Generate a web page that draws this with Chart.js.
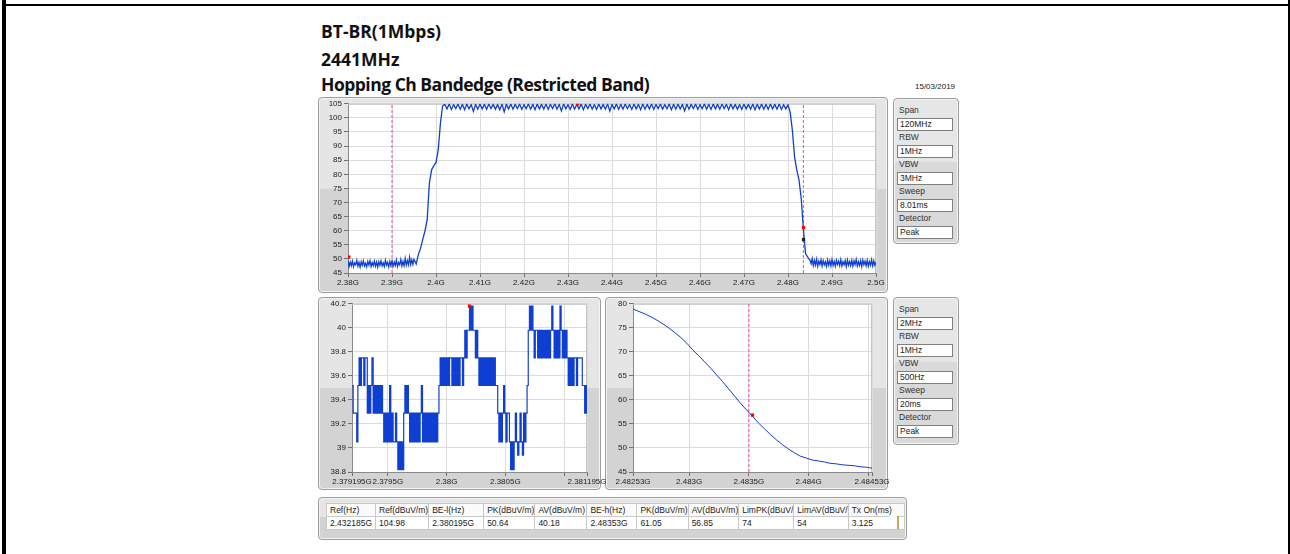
<!DOCTYPE html>
<html>
<head>
<meta charset="utf-8">
<title>BT-BR(1Mbps) 2441MHz - Hopping Ch Bandedge</title>
<script src="https://cdn.jsdelivr.net/npm/chart.js@4.4.1/dist/chart.umd.min.js"></script>
<style>
  html, body { margin: 0; padding: 0; background: #fff; }
  body { position: relative; width: 1290px; height: 554px; overflow: hidden; font-family: 'Liberation Sans', Arial, sans-serif; }
  .edge { position: absolute; background: #000; }
  .ttl { position: absolute; left: 321px; font: 700 17.5px/20px 'Open Sans', sans-serif; color: #111; white-space: nowrap; }
  .stamp { position: absolute; left: 915px; top: 82px; font: 8px/10px 'Liberation Sans', sans-serif; color: #222; }
  .panel { position: absolute; box-sizing: border-box; border: 1px solid #9d9d9d; border-radius: 4px;
    background: linear-gradient(#e5e5e5 0, #e5e5e5 47%, #d3d3d3 47%, #d3d3d3 100%);
    box-shadow: inset 0 0 0 1px #f3f3f3; }
  .info { background: linear-gradient(#e6e6e6 0, #e6e6e6 44%, #d9d9d9 44%, #d9d9d9 100%); }
  canvas { position: absolute; }
  .lbl { position: absolute; left: 5px; font: 8.5px/10px 'Liberation Sans', sans-serif; color: #333; }
  .box { position: absolute; left: 3px; width: 56px; height: 13px; box-sizing: border-box; border: 1px solid #7f7f7f; background: #fff;
    font: 8.5px/11px 'Liberation Sans', sans-serif; color: #222; padding-left: 2px; }
  table { position: absolute; left: 7px; top: 5px; border-collapse: collapse; table-layout: fixed; }
  td { height: 13px; padding: 0 0 0 3px; border: 1px solid #c9c9c9; background: #fff; font: 8.5px/11px 'Liberation Sans', sans-serif;
    color: #222; white-space: nowrap; overflow: hidden; box-sizing: border-box; }
  tr.hdr td { background: #fbfbfb; }
  .tan { position: absolute; left: 889px; top: 516px; width: 8px; height: 13px; background: #fff; border-right: 2px solid #c8a65a; }
</style>
</head>
<body>
<div class="edge" style="left:2px;top:0;width:4px;height:554px"></div>
<div class="edge" style="left:1288px;top:0;width:2px;height:554px"></div>
<div class="edge" style="left:6px;top:4px;width:1282px;height:2px"></div>

<div class="ttl" style="top:21px">BT-BR(1Mbps)</div>
<div class="ttl" style="top:49px">2441MHz</div>
<div class="ttl" style="top:74px;letter-spacing:-0.5px">Hopping Ch Bandedge (Restricted Band)</div>
<div class="stamp">15/03/2019</div>

<div class="panel" style="left:318px;top:97px;width:570px;height:196px"></div>
<div class="panel" style="left:318px;top:297px;width:283px;height:193px"></div>
<div class="panel" style="left:605px;top:297px;width:283px;height:193px"></div>
<div class="panel info" id="info-top" style="left:893px;top:98px;width:66px;height:146px"></div>
<div class="panel info" id="info-zoom" style="left:893px;top:297px;width:66px;height:148px"></div>
<div class="panel" id="tbl-panel" style="left:318px;top:497px;width:589px;height:43px"></div>
<div class="tan"></div>

<canvas id="ch-full" width="572" height="197" style="left:318px;top:97px"></canvas>
<canvas id="ch-low" width="302" height="195" style="left:318px;top:297px"></canvas>
<canvas id="ch-high" width="286" height="195" style="left:606px;top:297px"></canvas>

<script>
// ---- full-span sweep 2380..2500 MHz (dBuV/m), read in pieces
const fullLowNoise = [   // 2380 .. 2394.75, every 0.25 MHz
  49.4, 47.3, 48.9, 47.6, 49.2, 47.2, 48.6, 47.9, 49.5, 47.4,
  48.8, 47.1, 49.0, 47.7, 49.3, 47.5, 48.5, 47.2, 49.1, 47.8,
  49.4, 47.3, 48.7, 47.6, 49.2, 47.4, 48.9, 47.1, 49.0, 47.7,
  49.3, 47.5, 48.6, 47.3, 49.5, 47.8, 48.8, 47.2, 49.1, 47.6,
  49.2, 47.4, 48.9, 47.7, 49.6, 47.3, 48.7, 47.9, 49.8, 47.5,
  49.1, 47.6, 50.2, 47.8, 49.4, 47.9, 50.6, 48.0, 49.7, 48.1,
];
const fullRiseEdge = [   // 2395 .. 2401.5, every 0.5 MHz
  49.9, 48.2, 51.6, 53.8, 57.0, 59.9, 64.0, 77.0, 81.6, 83.0, 84.2, 88.6, 98.0, 104.3,
];
const fullInBand = [     // 2402 .. 2480, every 0.5 MHz (channel centres / gaps)
  104.8, 103.2, 104.9, 103.0, 104.7, 103.3, 104.9, 103.1, 104.8, 102.9,
  104.9, 103.2, 104.7, 102.3, 104.8, 103.1, 104.9, 103.2, 104.8, 103.0,
  104.9, 103.3, 104.8, 103.1, 104.7, 102.9, 104.9, 102.1, 104.8, 103.2,
  104.9, 103.1, 104.8, 103.3, 104.9, 103.0, 104.7, 103.2, 104.9, 103.1,
  104.8, 102.9, 104.9, 103.2, 104.8, 103.1, 104.9, 103.0, 104.8, 103.3,
  105.0, 103.1, 104.8, 102.5, 104.9, 103.2, 104.7, 103.0, 104.9, 103.1,
  104.8, 103.2, 104.9, 102.9, 104.8, 103.3, 104.9, 103.1, 104.7, 103.0,
  104.9, 103.2, 104.8, 103.1, 104.9, 102.4, 104.8, 103.2, 104.9, 103.0,
  104.8, 103.1, 104.9, 103.3, 104.7, 103.0, 104.9, 103.2, 104.8, 102.9,
  104.9, 103.1, 104.8, 103.2, 104.9, 103.0, 104.8, 103.3, 104.9, 103.1,
  104.7, 103.2, 104.9, 102.9, 104.8, 103.1, 104.9, 103.2, 104.8, 102.5,
  104.9, 103.1, 104.8, 103.3, 104.9, 103.0, 104.7, 103.2, 104.9, 103.1,
  104.8, 103.0, 104.9, 103.2, 104.8, 103.1, 104.9, 103.3, 104.8, 102.9,
  104.9, 103.2, 104.8, 103.1, 104.7, 103.0, 104.9, 103.2, 104.8, 103.1,
  104.9, 102.9, 104.8, 103.2, 104.9, 103.1, 104.8, 103.0, 104.9, 103.2,
  104.8, 103.1, 104.9, 103.0, 104.7, 103.2, 104.6,
];
const fullFallEdge = [   // 2480.5 .. 2485, every 0.5 MHz
  102.0, 95.5, 86.0, 81.5, 78.0, 71.5, 60.5, 51.8, 50.6, 49.5,
];
const fullHighNoise = [  // 2485.25 .. 2500, every 0.25 MHz
  48.3, 50.1, 47.6, 49.5, 47.8, 49.9, 47.4, 49.2, 48.0, 49.7,
  47.5, 49.4, 47.9, 49.0, 47.3, 49.6, 47.8, 49.3, 47.5, 49.8,
  47.7, 49.1, 47.4, 49.5, 48.0, 49.2, 47.6, 49.7, 47.5, 49.0,
  47.9, 49.4, 47.3, 49.6, 47.8, 49.1, 47.6, 49.5, 47.4, 49.3,
  48.0, 49.8, 47.5, 49.0, 47.7, 49.4, 47.3, 49.6, 47.9, 49.2,
  47.6, 49.5, 47.4, 49.1, 47.8, 49.7, 47.5, 49.3, 47.7, 48.9,
];
const fullPieceStartsMHz = [2380, 2395, 2402, 2480.5, 2485.25];
const fullPieceStepsMHz = [0.25, 0.5, 0.5, 0.5, 0.25];
const fullPeakMarks = [{ x: 2380.195, y: 50.64 }, { x: 2432.185, y: 104.98 }, { x: 2483.53, y: 61.05 }];
const fullAvgMarks = [{ x: 2483.53, y: 56.85 }];
const restrictedEdgesMHz = [2390, 2483.5];

// ---- lower band edge zoom, 2379.195..2381.195 MHz, every 10 kHz
const lowStartMHz = 2379.195, lowStepMHz = 0.01;
const lowLevels = [
  39.52, 39.29, 39.29, 39.29, 39.05, 39.52, 39.75, 39.52, 39.75, 39.75,
  39.52, 39.75, 39.75, 39.29, 39.52, 39.29, 39.52, 39.75, 39.29, 39.52,
  39.29, 39.52, 39.29, 39.52, 39.29, 39.52, 39.29, 39.05, 39.29, 39.05,
  39.29, 39.05, 39.52, 39.05, 39.29, 39.05, 39.05, 39.29, 39.05, 38.82,
  39.05, 38.82, 39.05, 38.82, 39.29, 39.52, 39.29, 39.52, 39.29, 39.05,
  39.29, 39.05, 39.29, 39.05, 39.29, 39.05, 39.29, 39.05, 39.29, 39.52,
  39.05, 39.29, 39.05, 39.29, 39.05, 39.29, 39.05, 39.29, 39.05, 39.29,
  39.05, 39.29, 39.05, 39.29, 39.52, 39.75, 39.52, 39.75, 39.52, 39.75,
  39.52, 39.75, 39.52, 39.75, 39.75, 39.52, 39.75, 39.52, 39.75, 39.52,
  39.75, 39.52, 39.75, 39.75, 39.52, 39.75, 39.98, 39.75, 39.98, 39.98,
  40.18, 39.98, 40.18, 39.98, 39.98, 39.75, 39.98, 39.75, 39.52, 39.75,
  39.52, 39.75, 39.52, 39.75, 39.52, 39.75, 39.52, 39.75, 39.52, 39.75,
  39.52, 39.75, 39.52, 39.52, 39.29, 39.05, 39.29, 39.05, 39.29, 39.52,
  39.29, 39.05, 39.29, 39.29, 39.05, 38.82, 39.05, 38.82, 39.05, 39.29,
  39.05, 38.94, 39.05, 39.29, 39.05, 38.94, 39.29, 39.05, 39.29, 39.52,
  39.98, 40.18, 39.98, 40.18, 39.98, 39.75, 39.98, 39.98, 39.75, 39.98,
  39.75, 39.98, 39.75, 39.98, 39.75, 39.98, 39.75, 39.98, 39.75, 39.98,
  40.18, 39.98, 39.75, 39.98, 39.75, 39.98, 39.75, 40.18, 39.98, 39.75,
  39.98, 39.75, 39.98, 39.75, 39.52, 39.75, 39.52, 39.75, 39.52, 39.75,
  39.75, 39.52, 39.75, 39.75, 39.75, 39.75, 39.52, 39.52, 39.29, 39.52,
  39.29,
];
const lowMarks = [{ x: 2380.195, y: 40.18 }];
const lowTicksMHz = [2379.195, 2379.5, 2380, 2380.5, 2381, 2381.195];
const lowTickLabels = ['2.379195G', '2.3795G', '2.38G', '2.3805G', '', '2.381195G'];

// ---- upper band edge zoom, 2482.53..2484.53 MHz, every 50 kHz
const highStartMHz = 2482.53, highStepMHz = 0.05;
const highLevels = [
  78.9, 78.4, 77.9, 77.3, 76.6, 75.8, 75.0, 74.0, 73.0, 71.8,
  70.4, 69.2, 67.9, 66.6, 65.2, 63.8, 62.3, 60.8, 59.3, 57.9,
  56.6, 55.2, 54.0, 52.8, 51.7, 50.7, 49.8, 49.0, 48.3, 47.9,
  47.5, 47.3, 47.1, 46.8, 46.7, 46.5, 46.4, 46.3, 46.1, 46.0,
  45.8,
];
const highMarks = [{ x: 2483.53, y: 56.85 }];
const highTicksMHz = [2482.53, 2483, 2483.5, 2484, 2484.5, 2484.53];
const highTickLabels = ['2.48253G', '2.483G', '2.4835G', '2.484G', '', '2.48453G'];

// ---- analyser settings and result table
const settingNames = ['Span', 'RBW', 'VBW', 'Sweep', 'Detector'];
const fullSettings = ['120MHz', '1MHz', '3MHz', '8.01ms', 'Peak'];
const zoomSettings = ['2MHz', '1MHz', '500Hz', '20ms', 'Peak'];
const resultHeaders = ['Ref(Hz)', 'Ref(dBuV/m)', 'BE-l(Hz)', 'PK(dBuV/m)', 'AV(dBuV/m)', 'BE-h(Hz)', 'PK(dBuV/m)', 'AV(dBuV/m)', 'LimPK(dBuV/', 'LimAV(dBuV/', 'Tx On(ms)'];
const resultValues = ['2.432185G', '104.98', '2.380195G', '50.64', '40.18', '2.48353G', '61.05', '56.85', '74', '54', '3.125'];
const resultColWidths = [49, 52, 55, 51, 52, 50, 48, 47, 52, 52, 56];

const TRACE = '#0f3fd2';
const EDGE = '#ff3fae';
const tickFont = { family: "'Liberation Sans', Arial, sans-serif", size: 8 };

const toPoints = (levels, start, step) => levels.map((y, i) => ({ x: start + i * step, y }));
const fullPoints = [fullLowNoise, fullRiseEdge, fullInBand, fullFallEdge, fullHighNoise]
  .flatMap((lv, k) => toPoints(lv, fullPieceStartsMHz[k], fullPieceStepsMHz[k]));

const plotFrame = {
  id: 'plotFrame',
  beforeDraw(chart) {
    const { ctx, chartArea: a } = chart;
    ctx.save();
    ctx.fillStyle = '#fff';
    ctx.fillRect(a.left, a.top, a.right - a.left, a.bottom - a.top);
    ctx.restore();
  },
  beforeDatasetsDraw(chart) {
    const { ctx, chartArea: a } = chart;
    ctx.save();
    ctx.strokeStyle = '#c4c4c4';
    ctx.lineWidth = 1;
    ctx.beginPath();
    ctx.moveTo(a.left, a.top + 0.5);
    ctx.lineTo(a.right - 0.5, a.top + 0.5);
    ctx.lineTo(a.right - 0.5, a.bottom);
    ctx.stroke();
    ctx.restore();
  },
};

function traceSet(points, width, stepped) {
  return { data: points, borderColor: TRACE, borderWidth: width, pointRadius: 0, stepped: stepped || false, order: 2 };
}
function edgeSet(xMHz, yMin, yMax) {
  return { data: [{ x: xMHz, y: yMin }, { x: xMHz, y: yMax }], borderColor: EDGE, borderWidth: 1, borderDash: [3, 2], pointRadius: 0, order: 3 };
}
function markSet(points, color) {
  return { data: points, showLine: false, pointStyle: 'rect', pointRadius: 2.3, pointBackgroundColor: color, pointBorderWidth: 0, order: 1 };
}
function xScale(min, max, height, ticks, extra) {
  return Object.assign({
    type: 'linear', min, max,
    afterFit: s => { s.height = height; },
    grid: { color: '#dcdcdc', tickLength: 4, tickColor: '#707070' },
    border: { color: '#8a8a8a' },
    ticks: Object.assign({ font: tickFont, color: '#222', padding: 1, maxRotation: 0, autoSkip: false }, ticks),
  }, extra || {});
}
function yScale(min, max, width, ticks) {
  return {
    type: 'linear', min, max,
    afterFit: s => { s.width = width; },
    grid: { color: '#dcdcdc', tickLength: 4, tickColor: '#707070' },
    border: { color: '#8a8a8a' },
    ticks: Object.assign({ font: tickFont, color: '#222', padding: 2, autoSkip: false }, ticks),
  };
}
function baseOptions(scales, padding) {
  return {
    responsive: false, animation: false, devicePixelRatio: 1, events: [],
    layout: { padding },
    plugins: { legend: { display: false }, tooltip: { enabled: false } },
    scales,
  };
}

// full span
new Chart(document.getElementById('ch-full'), {
  type: 'line',
  data: {
    datasets: [
      markSet(fullPeakMarks, '#ff0000'),
      markSet(fullAvgMarks, '#202020'),
      traceSet(fullPoints, 1.3),
      ...restrictedEdgesMHz.map(f => edgeSet(f, 45, 105)),
    ],
  },
  options: baseOptions({
    x: xScale(2380, 2500, 21, { stepSize: 10, callback: v => (v / 1000) + 'G' }),
    y: yScale(45, 105, 30, { stepSize: 5 }),
  }, { left: 0, top: 5.5, right: 14, bottom: 0 }),
  plugins: [plotFrame],
});

// lower band edge
new Chart(document.getElementById('ch-low'), {
  type: 'line',
  data: {
    datasets: [
      markSet(lowMarks, '#ff0000'),
      traceSet(toPoints(lowLevels, lowStartMHz, lowStepMHz), 1.2, true),
    ],
  },
  options: baseOptions({
    x: xScale(2379.195, 2381.195, 20, { callback: (v, i) => lowTickLabels[i] }, {
      afterBuildTicks: s => { s.ticks = lowTicksMHz.map(v => ({ value: v })); },
    }),
    y: yScale(38.8, 40.2, 34, { stepSize: 0.2, callback: v => String(+v.toFixed(1)) }),
  }, { left: 0, top: 6, right: 33, bottom: 0 }),
  plugins: [plotFrame],
});

// upper band edge
new Chart(document.getElementById('ch-high'), {
  type: 'line',
  data: {
    datasets: [
      markSet(highMarks, '#ff0000'),
      traceSet(toPoints(highLevels, highStartMHz, highStepMHz), 1),
      edgeSet(restrictedEdgesMHz[1], 45, 80),
    ],
  },
  options: baseOptions({
    x: xScale(2482.53, 2484.53, 20, { callback: (v, i) => highTickLabels[i] }, {
      afterBuildTicks: s => { s.ticks = highTicksMHz.map(v => ({ value: v })); },
    }),
    y: yScale(45, 80, 27, { stepSize: 5 }),
  }, { left: 0, top: 6, right: 20, bottom: 0 }),
  plugins: [plotFrame],
});

// settings panels
function fillInfo(id, values) {
  const el = document.getElementById(id);
  el.innerHTML = settingNames.map((n, i) =>
    `<div class="lbl" style="top:${6 + i * 27}px">${n}</div><div class="box" style="top:${18.5 + i * 27}px">${values[i]}</div>`
  ).join('');
}
fillInfo('info-top', fullSettings);
fillInfo('info-zoom', zoomSettings);

// result table
document.getElementById('tbl-panel').innerHTML =
  `<table><colgroup>${resultColWidths.map(w => `<col style="width:${w}px">`).join('')}</colgroup>` +
  `<tr class="hdr">${resultHeaders.map(h => `<td>${h}</td>`).join('')}</tr>` +
  `<tr>${resultValues.map(v => `<td>${v}</td>`).join('')}</tr></table>`;
</script>
</body>
</html>
